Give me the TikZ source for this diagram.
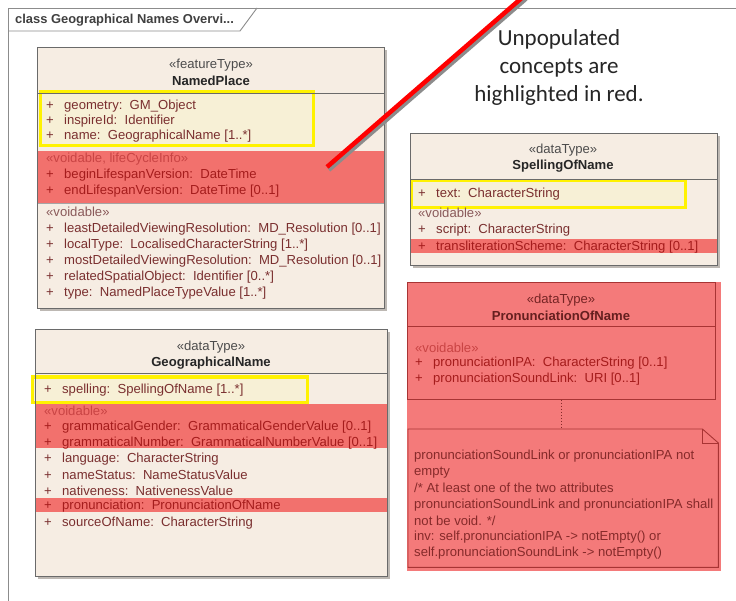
\documentclass[tikz,border=0pt]{standalone}
\usepackage{fontspec}
\setmainfont{Carlito}
\newfontfamily\umlf{Liberation Sans}
\definecolor{beige}{HTML}{F6EDE3}
\definecolor{yfill}{HTML}{F7F0D6}
\definecolor{redsec}{HTML}{F2716D}
\definecolor{redbox}{HTML}{F47A7A}
\definecolor{redborder}{HTML}{A83434}
\definecolor{boxline}{HTML}{6A6A6A}
\definecolor{attrtxt}{HTML}{7A2F2F}
\definecolor{redtxt}{HTML}{A51C1C}
\definecolor{lightred}{HTML}{C94444}
\definecolor{stereotxt}{HTML}{8A5A5A}
\definecolor{shadowc}{HTML}{BDB8B3}
\definecolor{framec}{HTML}{8C8C8C}
\newcommand{\pl}{\makebox[18pt][l]{+}}
\begin{document}
\begin{tikzpicture}[x=1pt,y=-1pt,
  umlfont/.style={font=\umlf\fontsize{13.1}{14}\selectfont},
  attr/.style={anchor=west, inner sep=0pt, yshift=-1.2pt, umlfont, text=attrtxt},
  redattr/.style={attr, text=redtxt},
  stereo/.style={inner sep=0pt, yshift=-1pt, umlfont, text=black!70},
  cname/.style={inner sep=0pt, yshift=-1pt, font=\umlf\bfseries\fontsize{13.1}{14}\selectfont, text=black!85},
  boxfill/.style={fill=beige, draw=none},
  boxedge/.style={draw=boxline, line width=0.9pt},
  shadowbox/.style={fill=shadowc},
  hilite/.style={draw=yellow, line width=3pt, fill=yfill},
  redband/.style={fill=redsec},
  notetxt/.style={anchor=west, inner sep=0pt, yshift=-1.2pt, umlfont, text=redborder!80!black}
]
\useasboundingbox (0,0) rectangle (736,601);
\fill[white] (0,0) rectangle (736,601);

% diagram frame
\draw[framec, line width=0.9pt] (8,601) -- (8,8) -- (736,8);
\draw[framec, line width=0.9pt] (8,31) -- (240,31) -- (257,8);
\node[anchor=west, inner sep=0pt, font=\umlf\bfseries\fontsize{12.9}{14}\selectfont, text=black!75] (title) at (15,20) {class Geographical Names Overvi...};

% ---------- NamedPlace ----------
\fill[shadowbox] (40,50) rectangle (387,311);
\node[boxfill, anchor=north west, minimum width=347pt, minimum height=261pt, inner sep=0pt] (np) at (37,47) {};
\fill[redband] (37,151) rectangle (384,203);
\draw[hilite] (40,92) rectangle (313,146);
\draw[boxline, line width=0.9pt] (37,93) -- (384,93);
\draw[boxline!60, line width=0.6pt] (37,203) -- (384,203);
\draw[boxedge] (np.north west) rectangle (np.south east);
\node[stereo] (npst) at (211,64) {«featureType»};
\node[cname] (npnm) at (211,80) {NamedPlace};
\node[attr] (np1) at (46,105) {\pl geometry:\ \ GM\_Object};
\node[attr] (np2) at (46,120) {\pl inspireId:\ \ Identifier};
\node[attr] (np3) at (46,135) {\pl name:\ \ GeographicalName [1..*]};
\node[attr, text=lightred] (np4) at (46,158) {«voidable, lifeCycleInfo»};
\node[redattr] (np5) at (46,174) {\pl beginLifespanVersion:\ \ DateTime};
\node[redattr] (np6) at (46,190) {\pl endLifespanVersion:\ \ DateTime [0..1]};
\node[attr, text=stereotxt] (np7) at (46,211) {«voidable»};
\node[attr] (np8) at (46,228) {\pl leastDetailedViewingResolution:\ \ MD\_Resolution [0..1]};
\node[attr] (np9) at (46,244) {\pl localType:\ \ LocalisedCharacterString [1..*]};
\node[attr] (np10) at (46,260) {\pl mostDetailedViewingResolution:\ \ MD\_Resolution [0..1]};
\node[attr] (np11) at (46,276) {\pl relatedSpatialObject:\ \ Identifier [0..*]};
\node[attr] (np12) at (46,292) {\pl type:\ \ NamedPlaceTypeValue [1..*]};

% ---------- GeographicalName ----------
\fill[shadowbox] (38,332) rectangle (390,579);
\node[boxfill, anchor=north west, minimum width=352pt, minimum height=247pt, inner sep=0pt] (gn) at (35,329) {};
\fill[redband] (35,404) rectangle (387,448);
\fill[redband] (35,498) rectangle (387,512);
\draw[hilite] (32,377) rectangle (307,402);
\draw[boxline, line width=0.9pt] (35,373) -- (387,373);
\draw[boxedge] (gn.north west) rectangle (gn.south east);
\node[stereo] (gnst) at (211,346) {«dataType»};
\node[cname] (gnnm) at (211,362) {GeographicalName};
\node[attr] (gn1) at (44,389) {\pl spelling:\ \ SpellingOfName [1..*]};
\node[attr, text=lightred] (gn2) at (44,410) {«voidable»};
\node[redattr] (gn3) at (44,426) {\pl grammaticalGender:\ \ GrammaticalGenderValue [0..1]};
\node[redattr] (gn4) at (44,442) {\pl grammaticalNumber:\ \ GrammaticalNumberValue [0..1]};
\node[attr] (gn5) at (44,458) {\pl language:\ \ CharacterString};
\node[attr] (gn6) at (44,474) {\pl nameStatus:\ \ NameStatusValue};
\node[attr] (gn7) at (44,490) {\pl nativeness:\ \ NativenessValue};
\node[redattr] (gn8) at (44,505) {\pl pronunciation:\ \ PronunciationOfName};
\node[attr] (gn9) at (44,522) {\pl sourceOfName:\ \ CharacterString};

% ---------- SpellingOfName ----------
\fill[shadowbox] (413,136) rectangle (720,268);
\node[boxfill, anchor=north west, minimum width=307pt, minimum height=132pt, inner sep=0pt] (sp) at (410,133) {};
\fill[redband] (410,239) rectangle (717,253);
\draw[hilite] (411,181) rectangle (685,208);
\draw[boxline, line width=0.9pt] (410,179) -- (717,179);
\draw[boxedge] (sp.north west) rectangle (sp.south east);
\node[stereo] (spst) at (563,149) {«dataType»};
\node[cname] (spnm) at (563,165) {SpellingOfName};
\node[attr] (sp1) at (418,193) {\pl text:\ \ CharacterString};
\node[attr, text=stereotxt] (sp2) at (418,212) {«voidable»};
\node[attr] (sp3) at (418,229) {\pl script:\ \ CharacterString};
\node[redattr] (sp4) at (418,246) {\pl transliterationScheme:\ \ CharacterString [0..1]};

% ---------- PronunciationOfName (red area) ----------
\fill[redbox] (407,282) rectangle (721,571);
\node[draw=redborder, line width=0.9pt, anchor=north west, minimum width=308pt, minimum height=117pt, inner sep=0pt] (pn) at (407,282) {};
\draw[redborder, line width=0.9pt] (407,326) -- (715,326);
\node[stereo, text=redborder!70!black] (pnst) at (561,299) {«dataType»};
\node[cname, text=redborder!60!black] (pnnm) at (561,315) {PronunciationOfName};
\node[attr, text=lightred] (pn1) at (415,347) {«voidable»};
\node[redattr] (pn2) at (415,362) {\pl pronunciationIPA:\ \ CharacterString [0..1]};
\node[redattr] (pn3) at (415,378) {\pl pronunciationSoundLink:\ \ URI [0..1]};

% constraint note
\node[anchor=north west, minimum width=310pt, minimum height=138pt, inner sep=0pt] (note) at (408,429) {};
\draw[redborder, line width=0.9pt] (note.north west) -- ([xshift=-16pt]note.north east) -- ([yshift=-14pt]note.north east) -- (note.south east) -- (note.south west) -- cycle;
\draw[redborder, line width=0.7pt] ([xshift=-16pt]note.north east) -- ([xshift=-16pt, yshift=-14pt]note.north east) -- ([yshift=-14pt]note.north east);
\draw[redborder!80!black, line width=1pt, dotted] (pn.south) -- (pn.south |- note.north);
\node[notetxt] (nt1) at (414,455) {pronunciationSoundLink or pronunciationIPA not};
\node[notetxt] (nt2) at (414,471) {empty};
\node[notetxt] (nt3) at (414,487) {/* At least one of the two attributes};
\node[notetxt] (nt4) at (414,504) {pronunciationSoundLink and pronunciationIPA shall};
\node[notetxt] (nt5) at (414,520) {not be void. */};
\node[notetxt] (nt6) at (414,536) {inv: self.pronunciationIPA -> notEmpty() or};
\node[notetxt] (nt7) at (414,552) {self.pronunciationSoundLink -> notEmpty()};

% ---------- callout ----------
\node[fill=white, inner sep=4pt, align=center, font=\fontsize{23}{28}\selectfont, text=black!85] (callout) at (559,67) {Unpopulated\\concepts are\\highlighted in red.};
\coordinate (pa) at (327,167);
\coordinate (pb) at (524,-4);
\draw[black!45, line width=4pt] ([shift={(2,3)}]pa) -- ([shift={(2,3)}]pb);
\draw[red, line width=4.5pt] (pa) -- (pb);
\end{tikzpicture}
\end{document}
